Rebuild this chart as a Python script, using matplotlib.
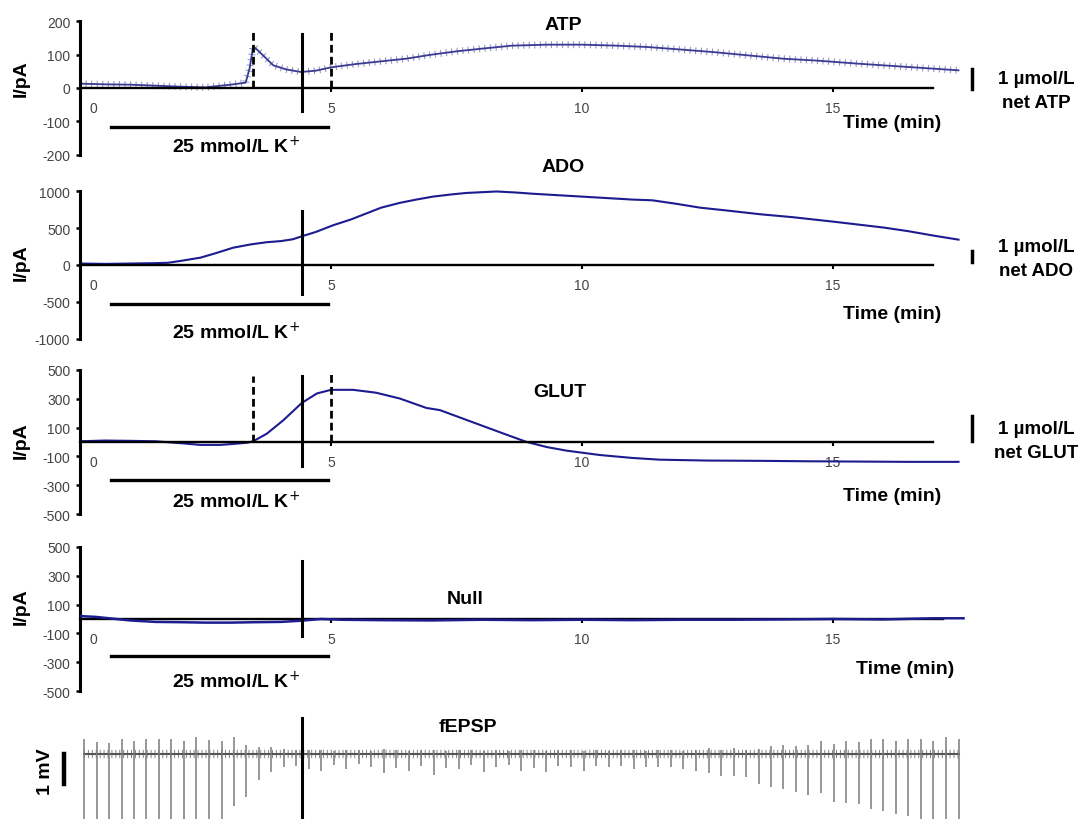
import matplotlib.pyplot as plt

plt.rcParams['font.family'] = ['Liberation Sans', 'DejaVu Sans']
plt.rcParams['axes.unicode_minus'] = False

# ---- values: time in min, current in pA ----
atp_t = [0, 0.5, 1.0, 1.5, 2.0, 2.5, 3.0, 3.3, 3.38, 3.45, 3.55, 3.7, 3.85, 4.1, 4.4, 4.7,
         5.0, 5.5, 6.0, 6.5, 7.0, 7.5, 8.0, 8.6, 9.3, 10.0, 10.7, 11.3, 12.0, 12.6, 13.3,
         14.0, 14.7, 15.5, 16.2, 17.0, 17.5]
atp_i = [13, 11, 10, 7, 4, 2, 10, 16, 60, 125, 112, 90, 68, 56, 48, 52,
         62, 72, 80, 88, 100, 110, 118, 127, 130, 130, 127, 123, 115, 108, 98,
         88, 82, 73, 66, 58, 53]

ado_t = [0, 0.5, 1.0, 1.5, 1.75, 2.0, 2.4, 2.7, 3.05, 3.4, 3.72, 4.0, 4.24, 4.44, 4.7,
         5.04, 5.4, 5.7, 6.0, 6.37, 6.7, 7.03, 7.4, 7.7, 8.0, 8.3, 8.7, 9.0, 9.5, 10.0,
         10.5, 11.0, 11.4, 11.9, 12.35, 12.9, 13.55, 14.2, 15.0, 15.5, 16.0, 16.5, 17.0, 17.5]
ado_i = [20, 15, 20, 25, 30, 55, 100, 160, 235, 280, 310, 325, 350, 395, 450,
         540, 620, 700, 780, 845, 890, 930, 960, 980, 990, 1000, 985, 970, 950, 930,
         910, 890, 880, 830, 780, 740, 690, 650, 590, 550, 510, 460, 400, 345]

glut_t = [0, 0.5, 1.0, 1.5, 2.0, 2.4, 2.8, 3.1, 3.33, 3.45, 3.72, 4.05, 4.42, 4.72, 5.0,
          5.44, 5.9, 6.37, 6.9, 7.17, 7.6, 8.03, 8.5, 8.9, 9.3, 9.7, 10.36, 11.0, 11.55,
          12.5, 13.55, 14.5, 15.5, 16.5, 17.5]
glut_i = [5, 10, 8, 5, -8, -20, -20, -12, -5, 5, 57, 150, 270, 335, 360,
          360, 340, 300, 235, 220, 165, 110, 50, 0, -35, -60, -90, -110, -122,
          -128, -130, -133, -135, -137, -137]

null_t = [0, 0.3, 1.0, 1.5, 2.0, 2.5, 3.0, 3.5, 4.0, 4.4, 4.8, 5.2, 6.0, 7.0, 8.0, 9.0,
          10.0, 11.0, 12.0, 13.0, 14.0, 15.0, 16.0, 17.0, 17.6]
null_i = [20, 15, -10, -20, -22, -25, -25, -22, -20, -12, 0, -5, -8, -10, -5, -8,
          -5, -8, -5, -5, -3, 0, -3, 5, 5]

# fEPSP: one stimulus every ~15 s; peak up / down deflections in mV
fepsp_t = [0.08, 0.33, 0.58, 0.83, 1.08, 1.32, 1.57, 1.82, 2.07, 2.32, 2.57, 2.82,
           3.07, 3.31, 3.56, 3.81, 4.06, 4.31, 4.56, 4.81, 5.06, 5.30, 5.55, 5.80,
           6.05, 6.30, 6.55, 6.80, 7.05, 7.30, 7.54, 7.79, 8.04, 8.29, 8.54, 8.79,
           9.04, 9.29, 9.53, 9.78, 10.03, 10.28, 10.53, 10.78, 11.03, 11.28, 11.52,
           11.77, 12.02, 12.27, 12.52, 12.77, 13.02, 13.27, 13.52, 13.76, 14.01,
           14.26, 14.51, 14.76, 15.01, 15.26, 15.51, 15.75, 16.00, 16.25, 16.50,
           16.75, 17.00, 17.25, 17.50]
fepsp_up = [0.5, 0.4, 0.38, 0.5, 0.45, 0.5, 0.5, 0.5, 0.45, 0.57, 0.48, 0.45, 0.57, 0.3,
            0.23, 0.25, 0.17, 0.15,
            0.15, 0.12, 0.1, 0.15, 0.12, 0.1, 0.18, 0.12, 0.1, 0.15, 0.12, 0.1, 0.12,
            0.15, 0.1, 0.12, 0.1, 0.15, 0.12, 0.1, 0.12, 0.15, 0.1, 0.12, 0.1, 0.12,
            0.15, 0.1, 0.12, 0.15, 0.1, 0.12, 0.2, 0.15, 0.2,
            0.15, 0.17, 0.27, 0.3, 0.27, 0.3, 0.43, 0.35, 0.43, 0.4, 0.5, 0.5, 0.45,
            0.5, 0.5, 0.45, 0.57, 0.5]
fepsp_down = [-2.5, -2.5, -2.5, -2.5, -2.5, -2.5, -2.5, -2.5, -2.5, -2.5, -2.5, -2.5,
              -1.73, -1.43, -0.87, -0.6, -0.43, -0.4,
              -0.5, -0.57, -0.35, -0.5, -0.33, -0.42, -0.62, -0.45, -0.55, -0.4, -0.7,
              -0.45, -0.5, -0.38, -0.6, -0.42, -0.35, -0.55, -0.45, -0.6, -0.4,
              -0.43, -0.57, -0.4, -0.43, -0.4, -0.5, -0.43, -0.43, -0.43, -0.5, -0.57,
              -0.63, -0.73, -0.73, -0.77, -0.99, -1.1, -1.17, -1.28, -1.36, -1.31,
              -1.61, -1.64, -1.67, -1.83, -1.91, -2.0, -2.05,
              -2.5, -2.5, -2.5, -2.5]

k_on, k_off = 0.62, 4.94      # 25 mmol/L K+ application
mark_t = 4.42                 # solid marker line
dash_t = [3.45, 5.0]          # dashed lines (ATP, GLUT)
calib_pa = {'ATP': 60, 'ADO': 150, 'GLUT': 172}   # 1 umol/L in pA

# ---- layout (pixels of the 1081x820 picture) ----
W, H = 1081, 820
XL, XR, PX_MIN = 80, 980, 50.2
TMAX = (XR - XL) / PX_MIN
BLUE = '#1c1c90'
TICKC = '#444444'

fig = plt.figure(figsize=(W / 100, H / 100), dpi=100)


def ftext(x, y, s, **kw):
    kw.setdefault('fontweight', 'bold')
    kw.setdefault('fontsize', 14)
    kw.setdefault('ha', 'center')
    kw.setdefault('va', 'center')
    fig.text(x / W, 1 - y / H, s, **kw)


def add_panel(top, bottom, zero, upp):
    ax = fig.add_axes([XL / W, 1 - bottom / H, (XR - XL) / W, (bottom - top) / H])
    ax.set_xlim(0, TMAX)
    ax.set_ylim((zero - bottom) * upp, (zero - top) * upp)
    ax.patch.set_visible(False)
    return ax


def trace_axes(ax, yticks, xend, mark, kbar):
    ax.spines['top'].set_visible(False)
    ax.spines['right'].set_visible(False)
    ax.spines['left'].set_bounds(yticks[0], yticks[-1])
    ax.spines['left'].set_linewidth(2.2)
    ax.spines['bottom'].set_position(('data', 0))
    ax.spines['bottom'].set_bounds(0, xend)
    ax.spines['bottom'].set_linewidth(1.7)
    ax.set_yticks(yticks)
    ax.set_xticks([5, 10, 15])
    ax.tick_params(axis='y', length=3, width=1.8, pad=4, labelsize=10, labelcolor=TICKC)
    ax.tick_params(axis='x', length=3, width=1.5, pad=6.5, labelsize=10, labelcolor=TICKC)
    ax.annotate('0', (0.26, 0), xytext=(0, -9.6), textcoords='offset points',
                ha='center', va='top', fontsize=10, color=TICKC)
    ax.plot([mark_t, mark_t], mark, color='black', lw=2.2, zorder=4)
    ax.plot([k_on, k_off], [kbar, kbar], color='black', lw=2.4, clip_on=False)


# ATP
ax = add_panel(10, 165, 89, 3.0)
trace_axes(ax, [-200, -100, 0, 100, 200], 17.0, (-69, 162), -116)
ax.plot(atp_t, atp_i, color='#8080bb', lw=5, ls=(0, (0.15, 0.65)), alpha=0.85)
ax.plot(atp_t, atp_i, color='#3a3a92', lw=1.3)
for t in dash_t:
    ax.plot([t, t], [0, 168], color='black', lw=2, ls=(0, (2.8, 1.5)))
ax.plot([17.77, 17.77], [-3, -3 + calib_pa['ATP']], color='black', lw=2.5, clip_on=False)

# ADO
ax = add_panel(180, 350, 266, 13.6)
trace_axes(ax, [-1000, -500, 0, 500, 1000], 17.0, (-394, 734), -530)
ax.plot(ado_t, ado_i, color=BLUE, lw=1.5)
ax.plot([17.77, 17.77], [41, 41 + calib_pa['ADO']], color='black', lw=2.5, clip_on=False)

# GLUT
ax = add_panel(360, 525, 443, 6.9)
trace_axes(ax, [-500, -300, -100, 100, 300, 500], 17.0, (-166, 455), -262)
ax.plot(glut_t, glut_i, color=BLUE, lw=1.5)
ax.plot([dash_t[0]] * 2, [0, 455], color='black', lw=2, ls=(0, (2.8, 1.5)))
ax.plot([dash_t[1]] * 2, [0, 483], color='black', lw=2, ls=(0, (2.8, 1.5)))
ax.plot([17.77, 17.77], [7, 7 + calib_pa['GLUT']], color='black', lw=2.5, clip_on=False)

# Null
ax = add_panel(535, 700, 620, 6.9)
trace_axes(ax, [-500, -300, -100, 100, 300, 500], 17.2, (-117, 400), -253)
ax.plot(null_t, null_i, color=BLUE, lw=1.8, zorder=3)

# fEPSP
ax = add_panel(705, 820, 755, 1 / 30)
ax.axis('off')
ax.plot([fepsp_t[0], fepsp_t[-1]], [0, 0], color='#888888', lw=6, ls=(0, (0.12, 0.35)))
ax.plot([fepsp_t[0], fepsp_t[-1]], [0, 0], color='#555555', lw=1.5)
ax.vlines(fepsp_t, fepsp_down, fepsp_up, color='#7a7a7a', lw=1.1)
ax.plot([mark_t, mark_t], [1.2, -2.5], color='black', lw=2.2)
ax.plot([-0.32, -0.32], [0, -1], color='black', lw=3.2, clip_on=False)

# ---- text ----
for y, name, x in [(25, 'ATP', 563), (168, 'ADO', 563), (393, 'GLUT', 560),
                   (600, 'Null', 465), (728, 'fEPSP', 468)]:
    ftext(x, y, name)
for y in [79, 263, 441, 607]:
    ftext(21, y, 'I/pA', rotation=90)
for y in [147, 333, 502, 682]:
    ftext(236, y, '25 mmol/L K$^{+}$')
for y, x in [(123, 892), (315, 892), (497, 892), (670, 905)]:
    ftext(x, y, 'Time (min)')
for y, name in [(80, 'ATP'), (247, 'ADO'), (430, 'GLUT')]:
    ftext(1036, y, '1 µmol/L', fontsize=13.5)
    ftext(1036, y + 24, 'net ' + name, fontsize=13.5)
ftext(46, 772, '1 mV', rotation=90)

fig.savefig('out.png', dpi=100)
